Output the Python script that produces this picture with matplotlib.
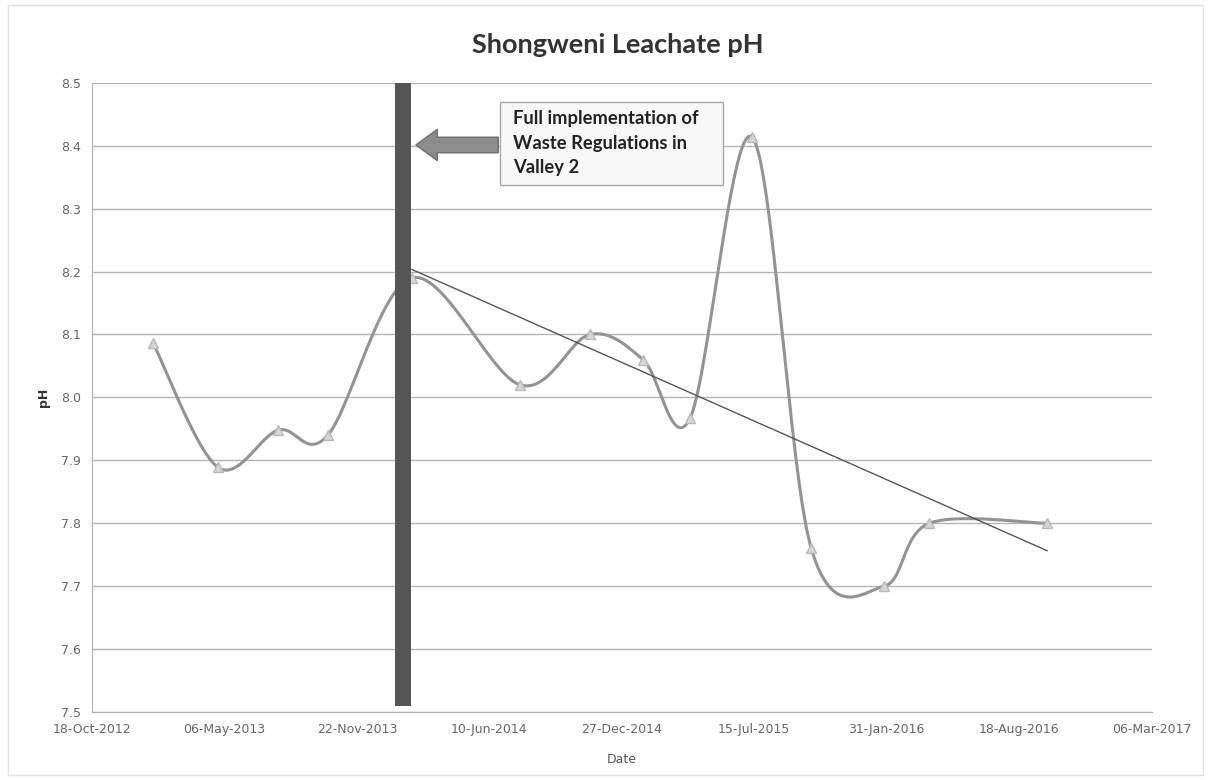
import matplotlib
matplotlib.use("Agg")
import matplotlib.pyplot as plt
import matplotlib.dates as mdates
from matplotlib.patches import FancyArrowPatch, Rectangle
import numpy as np

# sample dates and leachate pH
dates = ["2013-01-18", "2013-04-26", "2013-07-26", "2013-10-09", "2014-02-13",
         "2014-07-26", "2014-11-09", "2015-01-28", "2015-04-09", "2015-07-12",
         "2015-10-09", "2016-01-27", "2016-04-04", "2016-09-29"]
ph = [8.087, 7.889, 7.948, 7.940, 8.190, 8.020, 8.100, 8.060, 7.967, 8.413,
      7.760, 7.700, 7.800, 7.800]
trend_start = 4  # trendline fitted over samples after the regulation date
regulation_date = "2014-01-30"
tick_start, tick_end, tick_step = "2012-10-18", "2017-03-06", 200
title = "Shongweni Leachate pH"
note = ["Full implementation of", "Waste Regulations in", "Valley 2"]

x = mdates.date2num(np.array(dates, dtype="datetime64[D]"))
y = np.array(ph)
x0 = mdates.date2num(np.datetime64(tick_start))
x1 = mdates.date2num(np.datetime64(tick_end))

fig = plt.figure(figsize=(12.11, 7.8), dpi=100, facecolor="w")
ax = fig.add_axes([0.076, 0.087, 0.875, 0.807])
ax.set_xlim(x0, x1)
ax.set_ylim(7.5, 8.5)

# excel style smoothed line: bezier through points, built in screen space
bbox = ax.get_position()
sx = bbox.width * 1211 / (x1 - x0)
sy = bbox.height * 780 / 1.0
P = np.column_stack([(x - x0) * sx, (y - 7.5) * sy])
curve = []
for i in range(len(P) - 1):
    p0 = P[i - 1] if i > 0 else P[i]
    p1, p2 = P[i], P[i + 1]
    p3 = P[i + 2] if i + 2 < len(P) else P[i + 1]
    c1 = p1 + (p2 - p0) / 6.0
    c2 = p2 - (p3 - p1) / 6.0
    t = np.linspace(0, 1, 30)[:, None]
    seg = ((1 - t) ** 3) * p1 + 3 * ((1 - t) ** 2) * t * c1 + 3 * (1 - t) * t ** 2 * c2 + t ** 3 * p2
    curve.append(seg if i == 0 else seg[1:])
curve = np.vstack(curve)
ax.plot(curve[:, 0] / sx + x0, curve[:, 1] / sy + 7.5, color="#939393", lw=2.2, zorder=3)
ax.plot(x, y, linestyle="none", marker="^", ms=7, mfc="#d6d6d6", mec="#b8b8b8", zorder=4)

# linear trend
k, b = np.polyfit(x[trend_start:], y[trend_start:], 1)
xt = x[[trend_start, -1]]
ax.plot(xt, k * xt + b, color="#555555", lw=1.0, zorder=3)

# regulation marker bar
xr = mdates.date2num(np.datetime64(regulation_date))
ax.plot([xr, xr], [7.51, 8.5], color="#555555", lw=11.5, solid_capstyle="butt", zorder=5)

# annotation box with arrow
ax.add_patch(Rectangle((0.385, 0.838), 0.21, 0.132, transform=ax.transAxes,
                       fc="#f8f8f8", ec="#a8a8a8", lw=1, zorder=6))
for i, line in enumerate(note):
    ax.text(0.397, 0.943 - i * 0.039, line, transform=ax.transAxes, fontsize=13.2,
            fontweight="bold", family="Lato", color="#222222", va="center", ha="left",
            zorder=7)
arr = FancyArrowPatch((0.386, 0.901), (0.303, 0.901), transform=ax.transAxes,
                      arrowstyle="simple,head_width=1.6,head_length=1.1,tail_width=0.8",
                      mutation_scale=14, fc="#8c8c8c", ec="#6e6e6e", lw=1, zorder=6)
ax.add_patch(arr)

ax.set_xticks(np.arange(x0, x1 + 1, tick_step))
ax.xaxis.set_major_formatter(mdates.DateFormatter("%d-%b-%Y"))
ax.set_yticks(np.arange(7.5, 8.51, 0.1))
ax.yaxis.set_major_formatter(matplotlib.ticker.FormatStrFormatter("%.1f"))
ax.tick_params(axis="both", length=0, labelsize=9, labelcolor="#666666", pad=8)
for lab in ax.get_xticklabels() + ax.get_yticklabels():
    lab.set_family("DejaVu Sans")
ax.grid(True, axis="y", color="#b5b5b5", lw=1)
ax.set_axisbelow(True)
for spine in ("top", "right"):
    ax.spines[spine].set_visible(False)
for spine in ("left", "bottom"):
    ax.spines[spine].set_color("#b0b0b0")

ax.set_xlabel("Date", fontsize=9, color="#555555", labelpad=12)
ax.set_ylabel("pH", fontsize=9, fontweight="bold", color="#333333", labelpad=8)
fig.text(0.51, 0.942, title, ha="center", va="center", fontsize=19.5, fontweight="bold",
         family="Lato", color="#333333")
fig.patches.append(Rectangle((0.007, 0.006), 0.986, 0.988, transform=fig.transFigure,
                             fill=False, ec="#e0e0e0", lw=1))

fig.savefig("out.png", dpi=100, facecolor="w")
